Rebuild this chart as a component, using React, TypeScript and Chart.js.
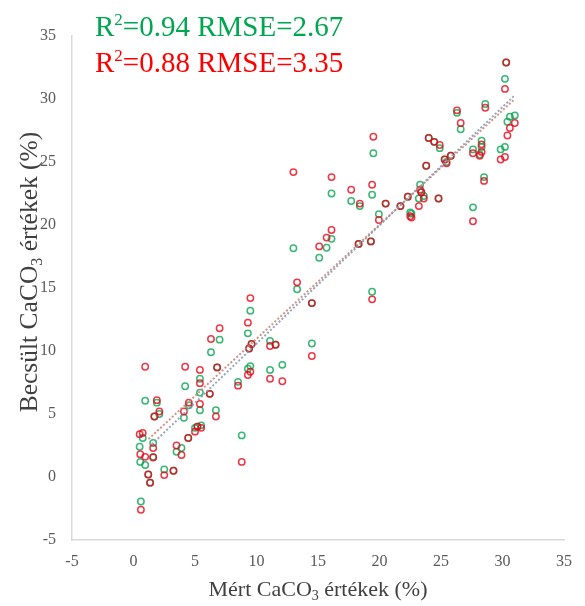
import React, { useEffect, useRef } from "react";
import { Chart, registerables } from "chart.js";

Chart.register(...registerables);

// ---- data ----
const measuredX = [
  0.6, 0.95, 4.2, 5.4, 5.4, 8.5, 6.2, 1.9, 4.5, 5.4,
  2.1, 1.7, 4.1, 6.7, 5.2, 5.0, 5.5, 8.8, 0.5, 0.75,
  1.6, 4.45, 3.5, 3.9, 0.55, 0.95, 1.6, 2.5, 3.25, 1.2,
  1.35, 6.3, 7.0, 6.8, 9.5, 9.3, 9.6, 9.4, 9.5, 9.3,
  11.1, 11.1, 11.55, 12.1, 14.5, 14.5, 13.3, 13.0, 15.1, 15.7,
  16.1, 16.1, 17.7, 18.4, 18.3, 19.3, 19.4, 19.4, 19.5, 19.95,
  20.5, 21.7, 22.3, 22.5, 22.6, 23.3, 23.4, 23.2, 23.6, 24.0,
  24.45, 24.9, 25.8, 25.3, 25.45, 23.8, 24.8, 26.3, 26.6, 27.6,
  27.6, 28.3, 28.3, 28.15, 28.5, 28.6, 29.85, 30.2, 30.2, 30.3,
  30.6, 31.0, 30.4,
];
const greenEstimated = [
  -1.95, 6.05, 7.2, 7.8, 6.7, 7.55, 6.6, 5.9, 5.7, 5.3,
  5.0, 4.8, 4.7, 5.3, 4.0, 3.9, 4.1, 3.3, 2.4, 3.1,
  2.7, 3.1, 2.0, 2.3, 1.2, 0.95, 1.6, 0.6, 0.5, 0.2,
  -0.45, 9.9, 10.9, 8.7, 13.2, 11.4, 10.55, 10.2, 8.8, 8.6,
  10.8, 8.5, 10.5, 8.9, 10.6, 13.8, 14.9, 18.15, 17.4, 18.2,
  18.9, 22.5, 21.9, 21.5, 18.5, 18.7, 14.7, 22.4, 25.7, 20.85,
  21.7, 21.5, 22.25, 21.0, 20.9, 23.2, 22.6, 22.1, 22.3, 26.9,
  26.6, 26.1, 25.5, 25.2, 25.0, 24.7, 22.1, 28.9, 27.6, 26.0,
  21.4, 26.7, 26.2, 25.6, 23.8, 29.6, 26.0, 26.2, 31.6, 32.9,
  28.6, 28.7, 28.2,
];
const redEstimated = [
  -2.6, 8.75, 8.75, 8.5, 7.45, 7.25, 6.6, 6.1, 5.9, 5.8,
  5.2, 4.8, 5.2, 4.8, 4.0, 3.6, 3.9, 1.2, 3.4, 3.5,
  2.3, 3.1, 2.5, 1.75, 1.8, 1.6, 1.55, 0.15, 0.5, 0.2,
  -0.45, 10.95, 11.8, 8.7, 14.2, 12.25, 10.55, 10.2, 8.35, 8.1,
  10.4, 7.8, 10.5, 7.6, 9.6, 13.8, 15.45, 24.2, 18.3, 19.0,
  19.6, 23.8, 22.8, 21.7, 18.5, 18.7, 14.1, 23.2, 27.0, 20.4,
  21.7, 21.5, 22.25, 20.7, 20.6, 22.8, 22.6, 21.5, 22.1, 26.9,
  26.6, 26.35, 25.5, 25.2, 24.9, 24.7, 22.1, 29.1, 28.1, 25.7,
  20.3, 26.4, 25.8, 25.5, 23.5, 29.3, 25.2, 25.4, 30.8, 32.9,
  27.7, 28.1, 27.1,
];
// trendline end points
const greenTrendX = [1.5, 31.0];
const greenTrendY = [2.6, 30.3];
const redTrendX = [1.1, 31.0];
const redTrendY = [2.9, 30.0];

const axisMin = -5;
const axisMax = 35;
const axisStep = 5;

const greenStats = ["0.94", "2.67"];
const redStats = ["0.88", "3.35"];
const xTitleParts = ["Mért CaCO", "3", " értékek (%)"];
const yTitleParts = ["Becsült CaCO", "3", " értékek (%)"];

// ---- styles ----
const SERIF = "'Liberation Serif', 'Times New Roman', serif";
const GREEN = "rgba(0, 163, 80, 0.78)";
const RED = "rgba(232, 0, 20, 0.78)";
const GREEN_TEXT = "#00a650";
const RED_TEXT = "#ff0000";
const AXIS_COLOR = "#d9d9d9";
const TICK_COLOR = "#595959";
const TITLE_COLOR = "#404040";

type Run = { t: string; size: number; dy: number };

function drawRuns(ctx: CanvasRenderingContext2D, runs: Run[], x: number, y: number, align: "left" | "center", rot: number, color: string) {
  ctx.save();
  ctx.translate(x, y);
  ctx.rotate(rot);
  ctx.fillStyle = color;
  ctx.textBaseline = "alphabetic";
  ctx.textAlign = "left";
  let total = 0;
  const widths = runs.map((r) => {
    ctx.font = `${r.size}px ${SERIF}`;
    const w = ctx.measureText(r.t).width;
    total += w;
    return w;
  });
  let cx = align === "center" ? -total / 2 : 0;
  runs.forEach((r, i) => {
    ctx.font = `${r.size}px ${SERIF}`;
    ctx.fillText(r.t, cx, r.dy);
    cx += widths[i];
  });
  ctx.restore();
}

const textPlugin = {
  id: "textPlugin",
  afterDraw(chart: any) {
    const { ctx, chartArea } = chart;
    const big = 29;
    const sup = 17;
    const lx = chartArea.left + 23;
    const statRuns = (s: string[]): Run[] => [
      { t: "R", size: big, dy: 0 },
      { t: "2", size: sup, dy: -11 },
      { t: `=${s[0]} RMSE=${s[1]}`, size: big, dy: 0 },
    ];
    drawRuns(ctx, statRuns(greenStats), lx, 36, "left", 0, GREEN_TEXT);
    drawRuns(ctx, statRuns(redStats), lx, 72, "left", 0, RED_TEXT);

    const axisRuns = (p: string[], size: number): Run[] => [
      { t: p[0], size, dy: 0 },
      { t: p[1], size: Math.round(size * 0.64), dy: Math.round(size * 0.18) },
      { t: p[2], size, dy: 0 },
    ];
    const cxm = (chartArea.left + chartArea.right) / 2;
    drawRuns(ctx, axisRuns(xTitleParts, 22), cxm, 596, "center", 0, TITLE_COLOR);
    drawRuns(ctx, axisRuns(yTitleParts, 25.5), 37, 272, "center", -Math.PI / 2, TITLE_COLOR);
  },
};

export default function App() {
  const ref = useRef<HTMLCanvasElement | null>(null);
  useEffect(() => {
    if (!ref.current) return;
    const greenPts = measuredX.map((x, i) => ({ x, y: greenEstimated[i] }));
    const redPts = measuredX.map((x, i) => ({ x, y: redEstimated[i] }));
    const gTrend = greenTrendX.map((x, i) => ({ x, y: greenTrendY[i] }));
    const rTrend = redTrendX.map((x, i) => ({ x, y: redTrendY[i] }));
    const chart = new Chart(ref.current, {
      type: "scatter",
      data: {
        datasets: [
          {
            label: "trend green",
            data: gTrend,
            showLine: true,
            borderColor: "rgba(130, 150, 180, 0.85)",
            borderWidth: 2,
            borderDash: [2, 2],
            pointRadius: 0,
            order: 0,
          },
          {
            label: "trend red",
            data: rTrend,
            showLine: true,
            borderColor: "rgba(200, 130, 110, 0.85)",
            borderWidth: 2,
            borderDash: [2, 2],
            borderDashOffset: 2,
            pointRadius: 0,
            order: 0,
          },
          {
            label: "red",
            data: redPts,
            pointStyle: "circle",
            pointRadius: 3.2,
            pointBorderWidth: 1.5,
            borderColor: RED,
            backgroundColor: "rgba(0,0,0,0)",
            order: 1,
          },
          {
            label: "green",
            data: greenPts,
            pointStyle: "circle",
            pointRadius: 3.2,
            pointBorderWidth: 1.5,
            borderColor: GREEN,
            backgroundColor: "rgba(0,0,0,0)",
            order: 2,
          },
        ],
      },
      options: {
        animation: false,
        responsive: true,
        maintainAspectRatio: false,
        layout: { padding: { top: 36, right: 21, left: 0, bottom: 0 } },
        plugins: { legend: { display: false }, tooltip: { enabled: false }, title: { display: false } },
        scales: {
          x: {
            type: "linear",
            min: axisMin,
            max: axisMax,
            ticks: {
              stepSize: axisStep,
              color: TICK_COLOR,
              font: { family: SERIF, size: 16 },
              padding: 12,
              callback: (v: any) => String(v),
            },
            grid: { display: false, drawTicks: false },
            border: { display: true, color: AXIS_COLOR, width: 1.5 },
            afterFit: (s: any) => { s.height = 66; },
          },
          y: {
            type: "linear",
            min: axisMin,
            max: axisMax,
            ticks: {
              stepSize: axisStep,
              color: TICK_COLOR,
              font: { family: SERIF, size: 16 },
              padding: 16,
              callback: (v: any) => String(v),
            },
            grid: { display: false, drawTicks: false },
            border: { display: true, color: AXIS_COLOR, width: 1.5 },
            afterFit: (s: any) => { s.width = 72; },
          },
        },
      },
      plugins: [textPlugin],
    });
    return () => chart.destroy();
  }, []);
  return (
    <div style={{ position: "absolute", left: 0, top: 0, width: 585, height: 606, background: "#fff" }}>
      <canvas ref={ref} style={{ display: "block" }} />
    </div>
  );
}
